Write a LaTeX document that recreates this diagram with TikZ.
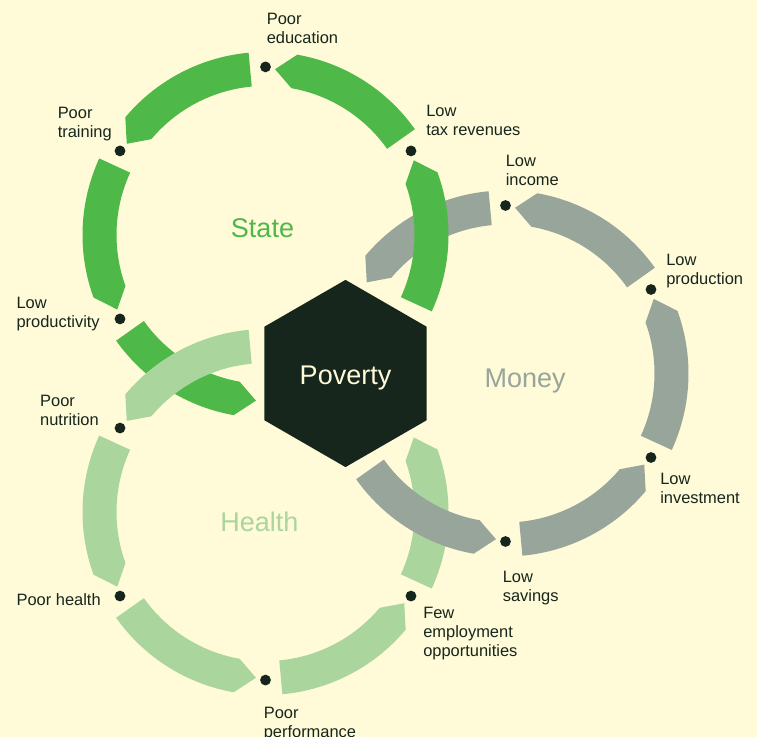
\documentclass[tikz,border=0pt]{standalone}
\usepackage{fontspec}
\setmainfont{Liberation Sans}
\usepackage{tikz}
\usetikzlibrary{shapes.geometric, calc, positioning}

\definecolor{creambg}{RGB}{255,250,216}
\definecolor{stategreen}{RGB}{78,184,72}
\definecolor{healthgreen}{RGB}{170,214,158}
\definecolor{moneygray}{RGB}{152,165,155}
\definecolor{povertydark}{RGB}{22,38,28}

\tikzset{
    cycledot/.style={circle, fill=povertydark, inner sep=0pt, minimum size=0.27cm},
    cyclelabel/.style={font=\fontsize{11.7}{13.5}\selectfont, text=povertydark, align=left, inner sep=0pt},
    ringtitle/.style={font=\fontsize{19.2}{22}\selectfont, text=#1, anchor=base, inner sep=0pt},
    hexcore/.style={regular polygon, regular polygon sides=6, shape border rotate=30, fill=povertydark, minimum size=4.68cm, inner sep=0pt, font=\fontsize{19.2}{22}\selectfont, text=creambg, text height=0.575cm, text depth=0pt}
}

% one arrow-shaped piece of a ring: centre, angle of the dot it leaves, colour
\newcommand{\ringseg}[3]{%
    \fill[#3, shift={(#1)}] (#2+5.3:4.575) arc[start angle=#2+5.3, end angle=#2+50, radius=4.575]
        -- (#2+56.7:4.15) -- (#2+50:3.725)
        arc[start angle=#2+50, end angle=#2+5.3, radius=3.725] -- cycle;%
}

\begin{document}
\begin{tikzpicture}

\useasboundingbox (0,0) rectangle (18.925,18.425);
\fill[creambg] (0,0) rectangle (18.925,18.425);

\coordinate (hub) at (8.6375,9.0875);
\coordinate (state) at ($(hub)+(120:4)$);
\coordinate (money) at ($(hub)+(0:4)$);
\coordinate (health) at ($(hub)+(240:4)$);

% pieces that run underneath the neighbouring ring
\ringseg{money}{90}{moneygray}
\ringseg{state}{210}{stategreen}
\ringseg{health}{330}{healthgreen}

% the rest, all running anticlockwise
\foreach \a in {30,90,150,270,330} {\ringseg{state}{\a}{stategreen}}
\foreach \a in {30,150,210,270,330} {\ringseg{money}{\a}{moneygray}}
\foreach \a in {30,90,150,210,270} {\ringseg{health}{\a}{healthgreen}}

\node[hexcore] (poverty) at (hub) {Poverty};

\node[ringtitle=stategreen, xshift=-0.075cm, yshift=-0.075cm] (statetitle) at (state) {State};
\node[ringtitle=moneygray, xshift=0.49cm, yshift=-0.34cm] (moneytitle) at (money) {Money};
\node[ringtitle=healthgreen, xshift=-0.15cm, yshift=-0.475cm] (healthtitle) at (health) {Health};

% State
\node[cycledot] (edu) at ($(state)+(90:4.2)$) {};
\node[cycledot] (taxrev) at ($(state)+(30:4.2)$) {};
\node[cycledot] (training) at ($(state)+(150:4.2)$) {};
\node[cycledot] (productivity) at ($(state)+(210:4.2)$) {};

% Money
\node[cycledot] (income) at ($(money)+(90:4.2)$) {};
\node[cycledot] (production) at ($(money)+(30:4.2)$) {};
\node[cycledot] (investment) at ($(money)+(330:4.2)$) {};
\node[cycledot] (savings) at ($(money)+(270:4.2)$) {};

% Health
\node[cycledot] (nutrition) at ($(health)+(150:4.2)$) {};
\node[cycledot] (poorhealth) at ($(health)+(210:4.2)$) {};
\node[cycledot] (performance) at ($(health)+(270:4.2)$) {};
\node[cycledot] (employment) at ($(health)+(330:4.2)$) {};

\node[cyclelabel, anchor=north west, xshift=0.025cm, yshift=1.35cm] (edutxt) at (edu) {Poor\\education};
\node[cyclelabel, anchor=north west, xshift=0.375cm, yshift=1.15cm] (taxrevtxt) at (taxrev) {Low\\tax revenues};
\node[cyclelabel, anchor=north east, xshift=-0.2cm, yshift=1.1cm] (trainingtxt) at (training) {Poor\\training};
\node[cyclelabel, anchor=north east, xshift=-0.5cm, yshift=0.55cm] (productivitytxt) at (productivity) {Low\\productivity};

\node[cyclelabel, anchor=north west, xshift=0cm, yshift=1.275cm] (incometxt) at (income) {Low\\income};
\node[cyclelabel, anchor=north west, xshift=0.375cm, yshift=0.9cm] (productiontxt) at (production) {Low\\production};
\node[cyclelabel, anchor=north west, xshift=0.225cm, yshift=-0.39cm] (investmenttxt) at (investment) {Low\\investment};
\node[cyclelabel, anchor=north west, xshift=-0.075cm, yshift=-0.725cm] (savingstxt) at (savings) {Low\\savings};

\node[cyclelabel, anchor=north east, xshift=-0.525cm, yshift=0.825cm] (nutritiontxt) at (nutrition) {Poor\\nutrition};
\node[cyclelabel, anchor=north east, xshift=-0.475cm, yshift=0.075cm] (poorhealthtxt) at (poorhealth) {Poor health};
\node[cyclelabel, anchor=north west, xshift=-0.05cm, yshift=-0.675cm] (performancetxt) at (performance) {Poor\\performance};
\node[cyclelabel, anchor=north west, xshift=0.3cm, yshift=-0.275cm] (employmenttxt) at (employment) {Few\\employment\\opportunities};

\end{tikzpicture}
\end{document}
